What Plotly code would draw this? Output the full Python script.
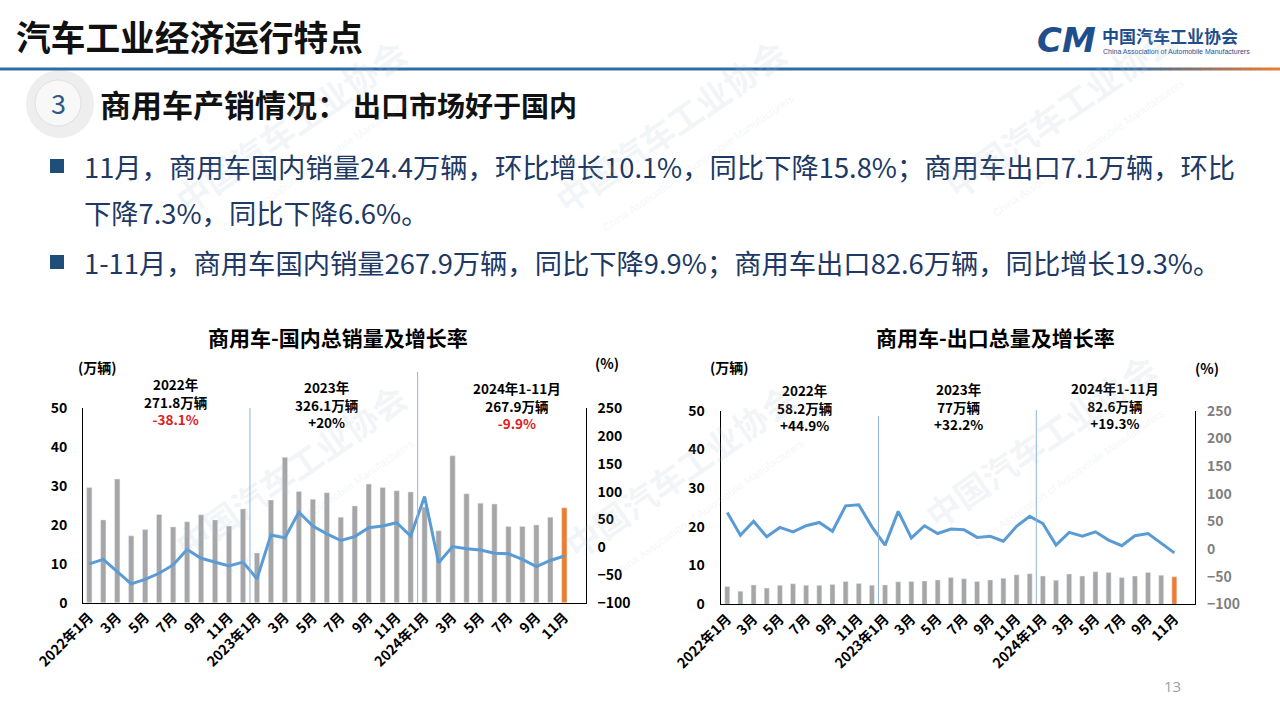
import plotly.graph_objects as go

# ---------------- data ----------------
months = [f"{y}年{m}月" for y in (2022, 2023, 2024) for m in range(1, 13)][:35]
tick_vals = months[::2]
tick_text = [s if s.endswith("年1月") else s.split("年")[1] for s in tick_vals]

dom_sales = [29.6, 21.3, 31.8, 17.2, 18.8, 22.7, 19.5, 20.8, 22.6, 21.3, 19.7, 24.1,
             12.8, 26.4, 37.4, 28.6, 26.6, 28.3, 22.0, 24.9, 30.5, 29.6, 28.8, 28.5,
             24.6, 18.5, 37.8, 28.0, 25.6, 25.4, 19.6, 19.6, 20.0, 22.0, 24.4]
dom_growth = [-30, -22, -44, -66, -58, -47, -32, -4, -20, -27, -34, -27,
              -57, 22, 17, 63, 38, 24, 12, 19, 35, 38, 44, 20,
              91, -28, 1, -3, -5, -11, -12, -22, -35, -24, -16]

exp_sales = [4.6, 3.4, 5.0, 4.2, 4.9, 5.3, 4.9, 4.9, 5.1, 5.9, 5.4, 4.9,
             5.0, 5.8, 5.9, 6.0, 6.3, 6.9, 6.6, 5.9, 6.3, 6.7, 7.6, 7.9,
             7.3, 6.2, 7.8, 7.3, 8.4, 8.2, 6.9, 7.3, 8.2, 7.5, 7.1]
exp_growth = [66, 25, 50, 22, 39, 31, 42, 48, 32, 78, 80, 40,
              7, 68, 20, 42, 28, 36, 35, 21, 23, 14, 41, 59,
              46, 7, 30, 23, 31, 16, 6, 24, 28, 11, -7]

left_notes = [("2022年", "271.8万辆", "-38.1%", True),
              ("2023年", "326.1万辆", "+20%", False),
              ("2024年1-11月", "267.9万辆", "-9.9%", True)]
right_notes = [("2022年", "58.2万辆", "+44.9%", False),
               ("2023年", "77万辆", "+32.2%", False),
               ("2024年1-11月", "82.6万辆", "+19.3%", False)]

bullet1a = "11月，商用车国内销量24.4万辆，环比增长10.1%，同比下降15.8%；商用车出口7.1万辆，环比"
bullet1b = "下降7.3%，同比下降6.6%。"
bullet2 = "1-11月，商用车国内销量267.9万辆，同比下降9.9%；商用车出口82.6万辆，同比增长19.3%。"

# ---------------- style ----------------
W, H = 1280, 720
FONT = "Noto Sans CJK SC"
GRAY = "#a6a6a6"
ORANGE = "#ed7d31"
BLUE = "#5b9bd5"


def px(x):
    return x / W


def py(y):
    return 1 - y / H


bar_colors = [GRAY] * (len(months) - 1) + [ORANGE]

fig = go.Figure()
fig.add_trace(go.Bar(x=months, y=dom_sales, marker_color=bar_colors, xaxis="x", yaxis="y",
                     width=0.38, showlegend=False))
fig.add_trace(go.Scatter(x=months, y=dom_growth, mode="lines", line=dict(color=BLUE, width=3),
                         xaxis="x", yaxis="y2", showlegend=False))
fig.add_trace(go.Bar(x=months, y=exp_sales, marker_color=bar_colors, xaxis="x3", yaxis="y3",
                     width=0.38, showlegend=False))
fig.add_trace(go.Scatter(x=months, y=exp_growth, mode="lines", line=dict(color=BLUE, width=3),
                         xaxis="x3", yaxis="y4", showlegend=False))

tickfont = dict(family=FONT, size=14, color="#000000", weight="bold")
xtickfont = dict(family=FONT, size=14, color="#000000", weight="bold")

common_x = dict(type="category", categoryorder="array", categoryarray=months,
                tickvals=tick_vals, ticktext=tick_text, tickangle=-45, tickfont=xtickfont,
                showline=True, linecolor="#000000", linewidth=1.2, ticks="", showgrid=False,
                zeroline=False, fixedrange=True, automargin=False)
common_y = dict(showline=True, linecolor="#000000", linewidth=1.2, showgrid=False, zeroline=False,
                ticks="", automargin=False, fixedrange=True)

fig.update_layout(
    width=W, height=H, autosize=False,
    margin=dict(l=0, r=0, t=0, b=0, pad=0),
    paper_bgcolor="white", plot_bgcolor="rgba(0,0,0,0)",
    xaxis=dict(domain=[px(83.3), px(585.7)], range=[-0.43, 35.53], anchor="y", **common_x),
    yaxis=dict(domain=[py(602.7), py(408.3)], range=[0, 50], dtick=10, anchor="x",
               tickfont=tickfont, ticklabelstandoff=12, **common_y),
    yaxis2=dict(overlaying="y", side="right", anchor="x", range=[-100, 250], dtick=50,
                tickfont=tickfont, ticklabelstandoff=8, **common_y),
    xaxis3=dict(domain=[px(720.7), px(1195)], range=[-0.5, 35.57], anchor="y3", **common_x),
    yaxis3=dict(domain=[py(604.3), py(410.7)], range=[0, 50], dtick=10, anchor="x3",
                tickfont=tickfont, ticklabelstandoff=12, **common_y),
    yaxis4=dict(overlaying="y3", side="right", anchor="x3", range=[-100, 250], dtick=50,
                tickfont=dict(family=FONT, size=14, color="#7f7f7f", weight="bold"),
                ticklabelstandoff=8, **common_y),
)

shapes = []
ann = []


def text(t, x, y, size, color="#000000", bold=False, xanchor="center", family=FONT, **kw):
    f = dict(family=family, size=size, color=color)
    if bold:
        f["weight"] = "bold"
    ann.append(dict(text=t, x=px(x), y=py(y), xref="paper", yref="paper", showarrow=False,
                    xanchor=xanchor, yanchor="middle", font=f, **kw))


# header line (blue to orange)
shapes.append(dict(type="line", xref="paper", yref="paper", x0=0, x1=px(1120), y0=py(69), y1=py(69),
                   line=dict(color="#2e6da4", width=3)))
n = 16
c0 = (46, 109, 164)
c1 = (237, 125, 49)
for i in range(n):
    t = (i + 0.5) / n
    col = tuple(int(c0[k] + (c1[k] - c0[k]) * t) for k in range(3))
    xa = 1120 + (1280 - 1120) * i / n
    xb = 1120 + (1280 - 1120) * (i + 1) / n
    shapes.append(dict(type="line", xref="paper", yref="paper", x0=px(xa), x1=px(xb + 0.5),
                       y0=py(69), y1=py(69), line=dict(color="rgb(%d,%d,%d)" % col, width=3)))

# circle with 3
shapes.append(dict(type="circle", xref="paper", yref="paper", x0=px(26), x1=px(94), y0=py(138), y1=py(70),
                   fillcolor="rgba(200,200,200,0.30)", line=dict(width=0), layer="below"))
shapes.append(dict(type="circle", xref="paper", yref="paper", x0=px(35), x1=px(81), y0=py(126), y1=py(80),
                   fillcolor="#f8f8f8", line=dict(color="#e0e0e0", width=1)))
text("3", 58, 103, 27, color="#2f5a8a")

# header texts
text("汽车工业经济运行特点", 14, 36, 34.7, color="#111111", bold=True, xanchor="left")
text("商用车产销情况：", 98, 104, 31, color="#111111", bold=True, xanchor="left")
text("出口市场好于国内", 351, 105, 28, color="#111111", bold=True, xanchor="left")

# logo
text("<i>CM</i>", 1066, 40, 34, color="#1f4e8c", bold=True, family="DejaVu Sans")
text("中国汽车工业协会", 1100, 35, 17, color="#1f4e8c", bold=True, xanchor="left")
text("China Association of Automobile Manufacturers", 1101, 52, 7, color="#1f4e8c",
     xanchor="left", family="Liberation Sans")

# bullets
BTXT = "#203864"
for yb in (166, 262):
    shapes.append(dict(type="rect", xref="paper", yref="paper", x0=px(50), x1=px(64), y0=py(yb + 7),
                       y1=py(yb - 7), fillcolor="#1f4e79", line=dict(width=0)))
for txt, xx, yy in ((bullet1a, 82, 166), (bullet1b, 82, 212), (bullet2, 82, 262)):
    text(txt, xx, yy, 27.3, color=BTXT, xanchor="left")

# chart titles and units
text("商用车-国内总销量及增长率", 338, 337, 21, bold=True)
text("商用车-出口总量及增长率", 995, 337, 21, bold=True)
for tx, xx, yy in (("(万辆)", 97, 367), ("(%)", 607, 363), ("(万辆)", 729, 367), ("(%)", 1207, 368)):
    text(tx, xx, yy, 14, bold=True)


# year notes (one multi-line text each)
def add_notes(notes, xs, ys):
    for (a, b, c, red), xx, yy in zip(notes, xs, ys):
        third = f"<span style='color:#e02020'>{c}</span>" if red else c
        text(f"{a}<br>{b}<br>{third}", xx, yy + 17, 13.5, bold=True)


add_notes(left_notes, (175, 326, 517), (384, 387, 388))
add_notes(right_notes, (804, 958, 1115), (390, 389, 388))

# year divider lines
for xr, xpos, ytop in (("x", 11.5, 408), ("x", 23.5, 372), ("x3", 11.5, 416), ("x3", 23.5, 410)):
    yb = 603 if xr == "x" else 604
    shapes.append(dict(type="line", xref=xr, yref="paper", x0=xpos, x1=xpos, y0=py(yb), y1=py(ytop),
                       line=dict(color="#8fb4dc", width=1)))

# watermarks
WM = "rgba(175,195,215,0.17)"
for xx, yy in ((290, 125), (670, 125), (1060, 110), (290, 470), (680, 470), (1040, 440)):
    ann.append(dict(text="中国汽车工业协会", x=px(xx), y=py(yy), xref="paper", yref="paper",
                    showarrow=False, textangle=-35, xanchor="center", yanchor="middle",
                    font=dict(family=FONT, size=34, color=WM, weight="bold")))
    ann.append(dict(text="China Association of Automobile Manufacturers", x=px(xx + 28), y=py(yy + 38),
                    xref="paper", yref="paper", showarrow=False, textangle=-35,
                    xanchor="center", yanchor="middle",
                    font=dict(family="Liberation Sans", size=11, color=WM)))

# page number
text("13", 1172, 686, 15, color="#a0a0a0", family="Open Sans")

fig.update_layout(shapes=shapes, annotations=ann)
fig.write_html("out.html", config={"displayModeBar": False},
               post_script="document.body.style.margin='0';")
